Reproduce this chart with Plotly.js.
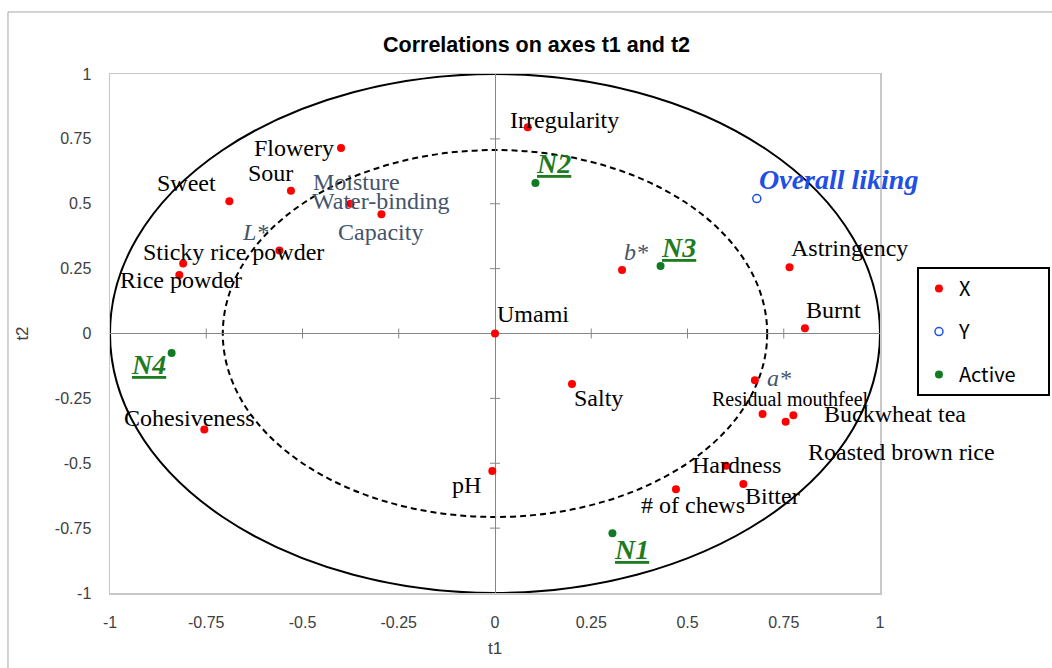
<!DOCTYPE html>
<html>
<head>
<meta charset="utf-8">
<script src="https://cdn.plot.ly/plotly-3.0.1.min.js"></script>
<style>
  html, body { margin: 0; padding: 0; background: #fff; }
  #chart { width: 1052px; height: 668px; }
</style>
</head>
<body>
<div id="chart"></div>
<script>
// ---------- data ----------
const xNames = ["Flowery", "Sour", "Sweet", "Moisture", "Water-binding<br>Capacity", "L*",
  "Sticky rice powder", "Rice powder", "Irregularity", "b*", "Astringency", "Burnt", "Umami",
  "Cohesiveness", "pH", "Salty", "a*", "Residual mouthfeel", "Buckwheat tea",
  "Roasted brown rice", "Hardness", "Bitter", "# of chews"];
const xT1 = [-0.40, -0.53, -0.69, -0.375, -0.295, -0.56, -0.81, -0.82, 0.085, 0.33, 0.765, 0.805, 0.0,
  -0.755, -0.007, 0.20, 0.675, 0.695, 0.775, 0.755, 0.60, 0.645, 0.47];
const xT2 = [0.715, 0.55, 0.51, 0.50, 0.46, 0.32, 0.27, 0.225, 0.795, 0.245, 0.255, 0.02, 0.0,
  -0.37, -0.53, -0.195, -0.18, -0.31, -0.315, -0.34, -0.51, -0.58, -0.60];

const yNames = ["Overall liking"];
const yT1 = [0.68];
const yT2 = [0.52];

const activeNames = ["N1", "N2", "N3", "N4"];
const activeT1 = [0.305, 0.105, 0.43, -0.84];
const activeT2 = [-0.77, 0.58, 0.26, -0.075];

const seriesNames = ["X", "Y", "Active"];
const tickVals = [-1, -0.75, -0.5, -0.25, 0, 0.25, 0.5, 0.75, 1];
const tickText = ["-1", "-0.75", "-0.5", "-0.25", "0", "0.25", "0.5", "0.75", "1"];
const circleRadii = [1, 0.707];

// ---------- label placement / styling (pixel offsets of text centre from point) ----------
const labelOffsets = {
  "Flowery": [-47, 0], "Sour": [-20, -18], "Sweet": [-43, -18], "Moisture": [6, -22],
  "Water-binding<br>Capacity": [0, 2], "L*": [-24, -18], "Sticky rice powder": [50, -11],
  "Rice powder": [2, 5], "Irregularity": [37, -7], "b*": [14, -18], "Astringency": [60, -19],
  "Burnt": [29, -18], "Umami": [38, -20], "Cohesiveness": [-15, -12], "pH": [-26, 14],
  "Salty": [26, 14], "a*": [24, -2], "Residual mouthfeel": [28, -15], "Buckwheat tea": [102, -1],
  "Roasted brown rice": [116, 30], "Hardness": [10, -1], "Bitter": [29, 12], "# of chews": [17, 16],
  "Overall liking": [82, -19], "N1": [19, 16], "N2": [18, -19], "N3": [18, -19], "N4": [-23, 12]
};
const slate = "#44546a";
const serif = "Liberation Serif, Times New Roman, serif";
function labelFont(name) {
  if (name === "L*" || name === "b*" || name === "a*")
    return {family: serif, size: 24, color: slate, style: "italic"};
  if (name === "Moisture" || name.indexOf("Water-binding") === 0)
    return {family: serif, size: 24, color: slate};
  if (name === "Residual mouthfeel")
    return {family: serif, size: 20, color: "#000"};
  return {family: serif, size: 24, color: "#000"};
}

const annotations = [];
function addLabels(names, xs, ys, fontFn, fmt) {
  names.forEach((n, i) => {
    const off = labelOffsets[n] || [0, 0];
    annotations.push({
      x: xs[i], y: ys[i], xref: "x", yref: "y", showarrow: false,
      text: fmt ? fmt(n) : n, xshift: off[0], yshift: -off[1],
      xanchor: "center", yanchor: "middle", font: fontFn(n)
    });
  });
}
addLabels(xNames, xT1, xT2, labelFont);
addLabels(yNames, yT1, yT2, () => ({family: serif, size: 28, color: "#1f4fe6", weight: "bold", style: "italic"}));
addLabels(activeNames, activeT1, activeT2,
  () => ({family: serif, size: 28, color: "#1e7b1e", weight: "bold", style: "italic"}),
  n => "<u>" + n + "</u>");

// ---------- shapes ----------
const shapes = [];
circleRadii.forEach((r, i) => {
  shapes.push({type: "circle", xref: "x", yref: "y", x0: -r, x1: r, y0: -r, y1: r,
    line: {color: "#000", width: 2, dash: i === 0 ? "solid" : "6px,4px"}, layer: "below"});
});
tickVals.forEach(t => {
  if (t === 0 || Math.abs(t) === 1) return;
  shapes.push({type: "line", xref: "x", yref: "y", x0: t, x1: t, ysizemode: "pixel", yanchor: 0,
    y0: -5, y1: 5, line: {color: "#868686", width: 1}, layer: "below"});
  shapes.push({type: "line", xref: "x", yref: "y", y0: t, y1: t, xsizemode: "pixel", xanchor: 0,
    x0: -5, x1: 5, line: {color: "#868686", width: 1}, layer: "below"});
});
// outer chart border
shapes.push({type: "rect", xref: "paper", yref: "paper", x0: -0.1325, x1: 1.4, y0: -0.3, y1: 1.1195,
  line: {color: "#a6a6a6", width: 1}, fillcolor: "rgba(0,0,0,0)", layer: "below"});

// legend entry padded (non-breaking spaces) so the legend box is as wide as the reference
const pad = "\u00a0".repeat(6);

// ---------- traces ----------
const traces = [
  {type: "scatter", mode: "markers", name: seriesNames[0], x: xT1, y: xT2, legendgroup: "a",
    marker: {color: "#ff0000", size: 8}, hoverinfo: "skip", cliponaxis: false},
  {type: "scatter", mode: "markers", name: seriesNames[1], x: yT1, y: yT2, legendgroup: "b",
    marker: {color: "#1f4fe6", size: 8, symbol: "circle-open", line: {color: "#1f4fe6", width: 1.5}},
    hoverinfo: "skip", cliponaxis: false},
  {type: "scatter", mode: "markers", name: seriesNames[2] + pad, x: activeT1, y: activeT2, legendgroup: "c",
    marker: {color: "#0f7b22", size: 8}, hoverinfo: "skip", cliponaxis: false}
];

const axisCommon = {
  range: [-1, 1], tickmode: "array", tickvals: tickVals, ticktext: tickText,
  showgrid: false, zeroline: true, zerolinecolor: "#868686", zerolinewidth: 1,
  showline: true, mirror: true, linecolor: "#c8c8c8", linewidth: 1.5,
  ticks: "", tickfont: {family: "Liberation Sans, Arial, sans-serif", size: 16, color: "#404040"},
  fixedrange: true
};

const layout = {
  width: 1052, height: 668,
  margin: {l: 110, r: 172, t: 74, b: 75, autoexpand: false},
  paper_bgcolor: "#fff", plot_bgcolor: "#fff",
  title: {text: "<b>Correlations on axes t1 and t2</b>", xref: "container", yref: "container",
    x: 0.51, y: 0.934, xanchor: "center", yanchor: "middle",
    font: {family: "Liberation Sans, Arial, sans-serif", size: 21.5, color: "#000"}},
  xaxis: Object.assign({}, axisCommon, {
    title: {text: "t1", standoff: 12, font: {family: "Liberation Sans, Arial, sans-serif", size: 17, color: "#404040"}},
    ticklabelstandoff: 14}),
  yaxis: Object.assign({}, axisCommon, {
    title: {text: "t2", standoff: 22, font: {family: "Liberation Sans, Arial, sans-serif", size: 17, color: "#404040"}},
    ticklabelstandoff: 14}),
  showlegend: true,
  legend: {x: 1.048, xanchor: "left", y: 0.628, yanchor: "top",
    bordercolor: "#000", borderwidth: 2, bgcolor: "#fff", tracegroupgap: 14,
    font: {family: "Noto Sans CJK KR, Noto Sans, sans-serif", size: 20, color: "#000"}},
  annotations: annotations,
  shapes: shapes,
  hovermode: false
};

Plotly.newPlot("chart", traces, layout, {displayModeBar: false, staticPlot: true});
</script>
</body>
</html>
